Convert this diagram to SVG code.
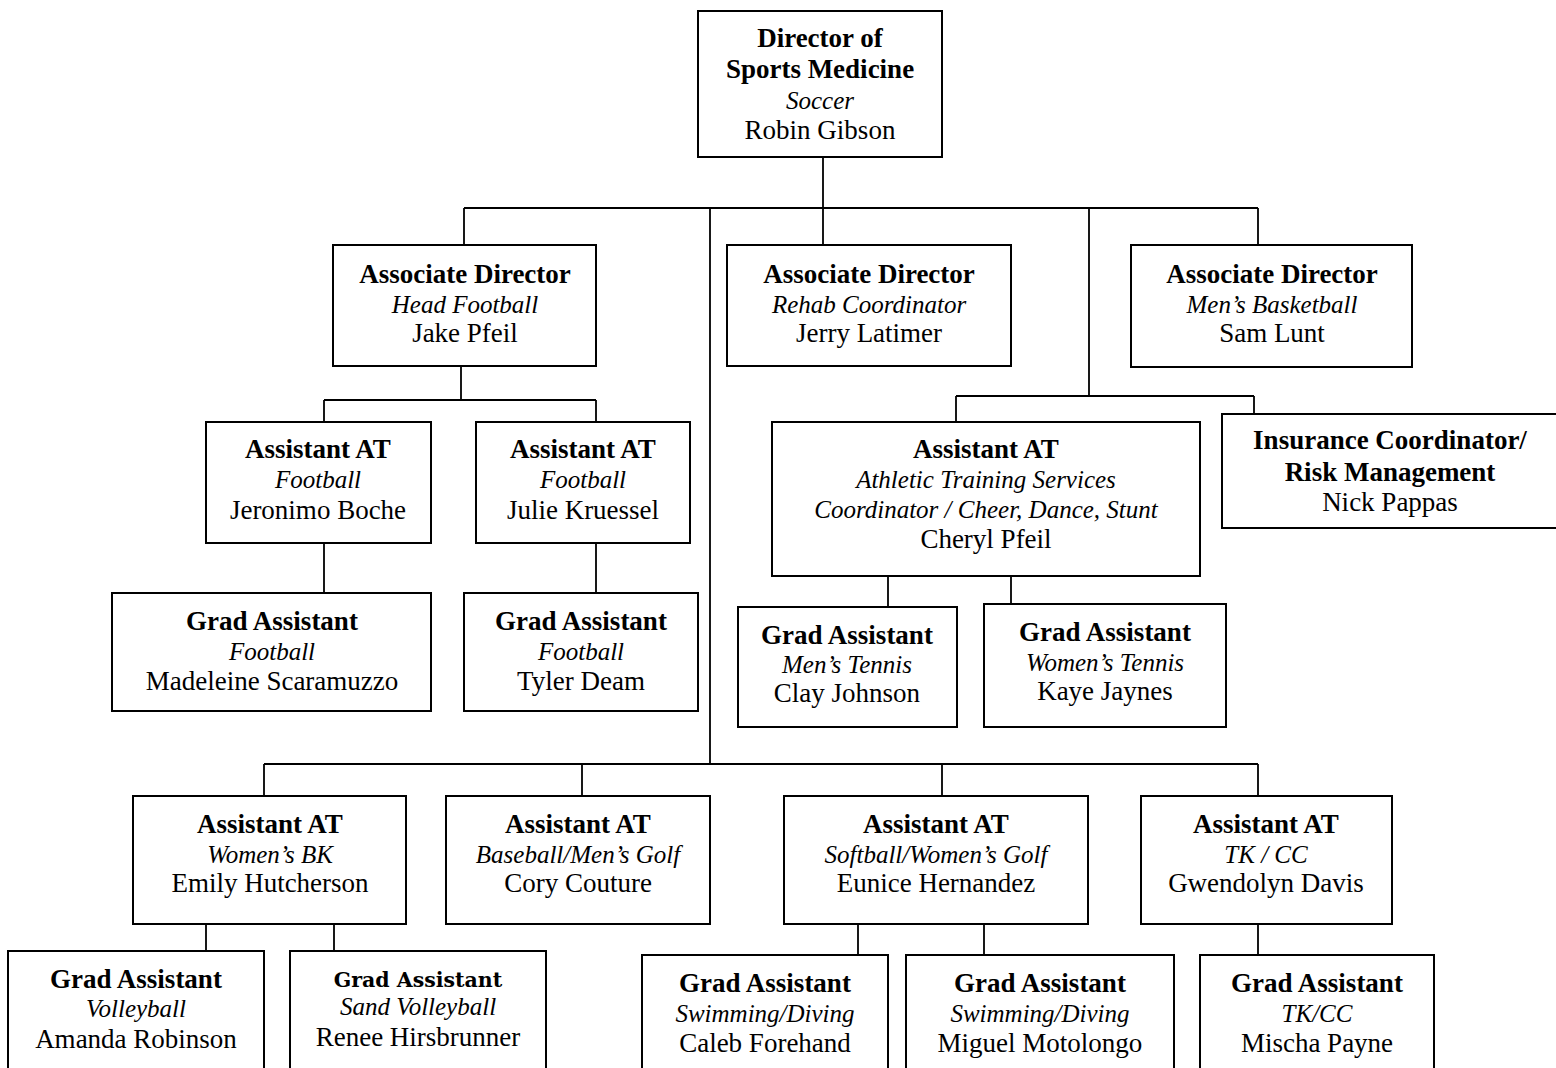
<svg xmlns="http://www.w3.org/2000/svg" width="1556" height="1068" viewBox="0 0 1556 1068">
<style>
.box{fill:#fff;stroke:#000;stroke-width:2}
.c{fill:none;stroke:#000;stroke-width:1.8}
text{font-family:"Liberation Serif","Times New Roman",serif;text-anchor:middle;fill:#000}
.b{font-weight:bold;font-size:27px}
.i{font-style:italic;font-size:25px}
.r{font-size:27px}
.b2{font-family:"DejaVu Serif",serif;font-weight:bold;font-size:20.5px}
</style>
<rect width="1556" height="1068" fill="#fff"/>
<g id="connectors">
<path class="c" d="M823,157V208 M464,208H1258 M464,208V245 M823,208V245 M1258,208V245 M1089,208V396 M956,396H1254 M956,396V422 M1254,396V414 M710,208V764 M461,366V400 M324,400H596 M324,400V422 M596,400V422 M324,543V593 M596,543V593 M888,576V607 M1011,576V604 M264,764H1258 M264,764V796 M582,764V796 M942,764V796 M1258,764V796 M206,924V951 M334,924V956 M858,924V955 M984,924V955 M1258,924V955"/>
</g>
<g id="director">
<rect class="box" x="698" y="11" width="244" height="146"/>
<text x="820" y="47" class="b">Director of</text>
<text x="820" y="78" class="b">Sports Medicine</text>
<text x="820" y="109" class="i">Soccer</text>
<text x="820" y="139" class="r">Robin Gibson</text>
</g>
<g id="assoc-football">
<rect class="box" x="333" y="245" width="263" height="121"/>
<text x="465" y="283" class="b">Associate Director</text>
<text x="465" y="313" class="i">Head Football</text>
<text x="465" y="342" class="r">Jake Pfeil</text>
</g>
<g id="assoc-rehab">
<rect class="box" x="727" y="245" width="284" height="121"/>
<text x="869" y="283" class="b">Associate Director</text>
<text x="869" y="313" class="i">Rehab Coordinator</text>
<text x="869" y="342" class="r">Jerry Latimer</text>
</g>
<g id="assoc-mbb">
<rect class="box" x="1131" y="245" width="281" height="122"/>
<text x="1272" y="283" class="b">Associate Director</text>
<text x="1272" y="313" class="i">Men’s Basketball</text>
<text x="1272" y="342" class="r">Sam Lunt</text>
</g>
<g id="at-boche">
<rect class="box" x="206" y="422" width="225" height="121"/>
<text x="318" y="458" class="b">Assistant AT</text>
<text x="318" y="488" class="i">Football</text>
<text x="318" y="519" class="r">Jeronimo Boche</text>
</g>
<g id="at-kruessel">
<rect class="box" x="476" y="422" width="214" height="121"/>
<text x="583" y="458" class="b">Assistant AT</text>
<text x="583" y="488" class="i">Football</text>
<text x="583" y="519" class="r">Julie Kruessel</text>
</g>
<g id="ga-scaramuzzo">
<rect class="box" x="112" y="593" width="319" height="118"/>
<text x="272" y="630" class="b">Grad Assistant</text>
<text x="272" y="660" class="i">Football</text>
<text x="272" y="690" class="r">Madeleine Scaramuzzo</text>
</g>
<g id="ga-deam">
<rect class="box" x="464" y="593" width="234" height="118"/>
<text x="581" y="630" class="b">Grad Assistant</text>
<text x="581" y="660" class="i">Football</text>
<text x="581" y="690" class="r">Tyler Deam</text>
</g>
<g id="at-cheryl">
<rect class="box" x="772" y="422" width="428" height="154"/>
<text x="986" y="458" class="b">Assistant AT</text>
<text x="986" y="488" class="i">Athletic Training Services</text>
<text x="986" y="518" class="i">Coordinator / Cheer, Dance, Stunt</text>
<text x="986" y="548" class="r">Cheryl Pfeil</text>
</g>
<g id="insurance">
<rect class="box" x="1222" y="414" width="340" height="114"/>
<text x="1390" y="449" class="b">Insurance Coordinator/</text>
<text x="1390" y="481" class="b">Risk Management</text>
<text x="1390" y="511" class="r">Nick Pappas</text>
</g>
<g id="ga-johnson">
<rect class="box" x="738" y="607" width="219" height="120"/>
<text x="847" y="644" class="b">Grad Assistant</text>
<text x="847" y="673" class="i">Men’s Tennis</text>
<text x="847" y="702" class="r">Clay Johnson</text>
</g>
<g id="ga-jaynes">
<rect class="box" x="984" y="604" width="242" height="123"/>
<text x="1105" y="641" class="b">Grad Assistant</text>
<text x="1105" y="671" class="i">Women’s Tennis</text>
<text x="1105" y="700" class="r">Kaye Jaynes</text>
</g>
<g id="at-hutcherson">
<rect class="box" x="133" y="796" width="273" height="128"/>
<text x="270" y="833" class="b">Assistant AT</text>
<text x="270" y="863" class="i">Women’s BK</text>
<text x="270" y="892" class="r">Emily Hutcherson</text>
</g>
<g id="at-couture">
<rect class="box" x="446" y="796" width="264" height="128"/>
<text x="578" y="833" class="b">Assistant AT</text>
<text x="578" y="863" class="i">Baseball/Men’s Golf</text>
<text x="578" y="892" class="r">Cory Couture</text>
</g>
<g id="at-hernandez">
<rect class="box" x="784" y="796" width="304" height="128"/>
<text x="936" y="833" class="b">Assistant AT</text>
<text x="936" y="863" class="i">Softball/Women’s Golf</text>
<text x="936" y="892" class="r">Eunice Hernandez</text>
</g>
<g id="at-davis">
<rect class="box" x="1141" y="796" width="251" height="128"/>
<text x="1266" y="833" class="b">Assistant AT</text>
<text x="1266" y="863" class="i">TK / CC</text>
<text x="1266" y="892" class="r">Gwendolyn Davis</text>
</g>
<g id="ga-robinson">
<rect class="box" x="8" y="951" width="256" height="130"/>
<text x="136" y="988" class="b">Grad Assistant</text>
<text x="136" y="1017" class="i">Volleyball</text>
<text x="136" y="1048" class="r">Amanda Robinson</text>
</g>
<g id="ga-hirsbrunner">
<rect class="box" x="290" y="951" width="256" height="130"/>
<text x="418" y="987" class="b2">Grad Assistant</text>
<text x="418" y="1015" class="i">Sand Volleyball</text>
<text x="418" y="1046" class="r">Renee Hirsbrunner</text>
</g>
<g id="ga-forehand">
<rect class="box" x="642" y="955" width="246" height="130"/>
<text x="765" y="992" class="b">Grad Assistant</text>
<text x="765" y="1022" class="i">Swimming/Diving</text>
<text x="765" y="1052" class="r">Caleb Forehand</text>
</g>
<g id="ga-motolongo">
<rect class="box" x="906" y="955" width="268" height="130"/>
<text x="1040" y="992" class="b">Grad Assistant</text>
<text x="1040" y="1022" class="i">Swimming/Diving</text>
<text x="1040" y="1052" class="r">Miguel Motolongo</text>
</g>
<g id="ga-payne">
<rect class="box" x="1200" y="955" width="234" height="130"/>
<text x="1317" y="992" class="b">Grad Assistant</text>
<text x="1317" y="1022" class="i">TK/CC</text>
<text x="1317" y="1052" class="r">Mischa Payne</text>
</g>
</svg>
